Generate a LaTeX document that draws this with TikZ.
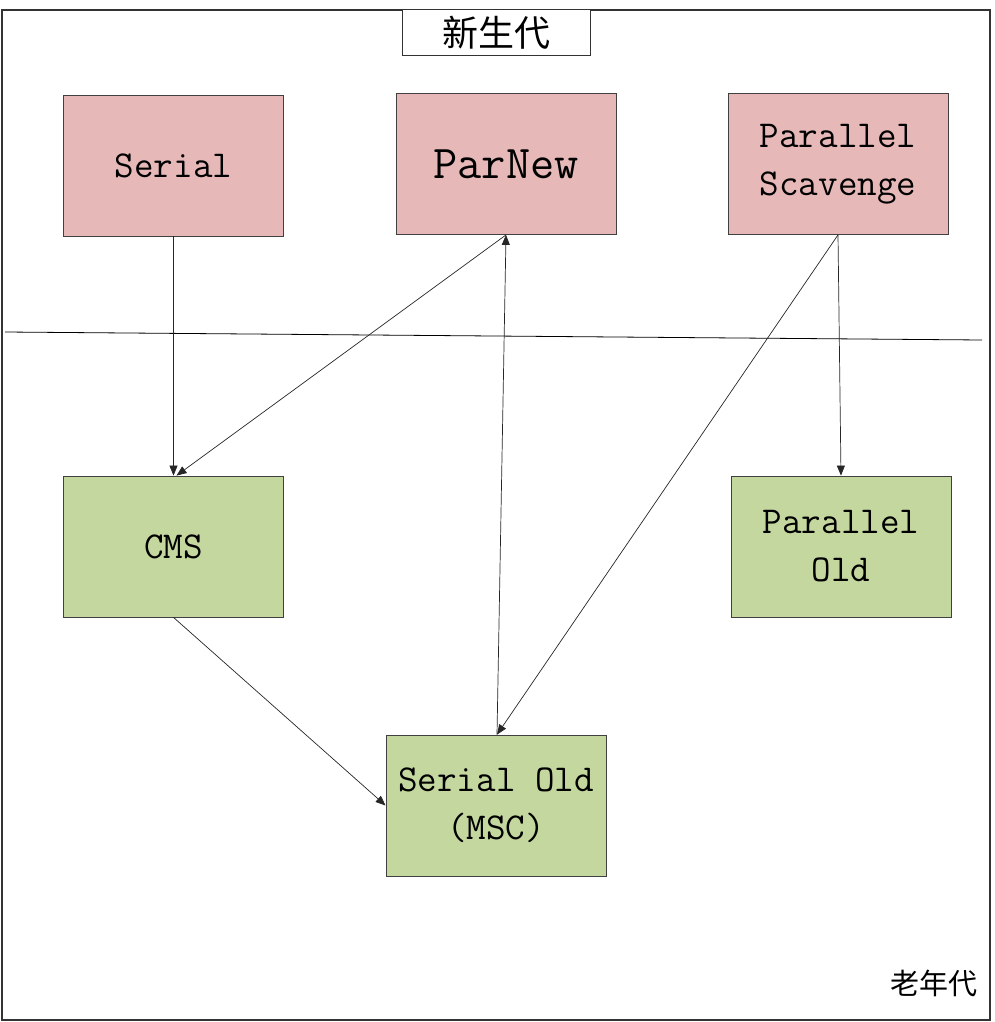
\documentclass[tikz,border=0pt]{standalone}
\usepackage{fontspec}
\newfontfamily\cjk{Noto Sans CJK SC}
\usetikzlibrary{arrows.meta,calc}
\definecolor{pinkfill}{HTML}{E6B9B8}
\definecolor{greenfill}{HTML}{C4D79F}
\tikzset{
  gcbox/.style={draw=black!75, line width=0.8pt, minimum width=220pt, minimum height=141pt, inner sep=0pt, align=center, font=\ttfamily\fontsize{38}{48}\selectfont},
  young/.style={gcbox, fill=pinkfill},
  old/.style={gcbox, fill=greenfill},
  conn/.style={draw=black!85, line width=0.7pt, -{Triangle[length=10pt,width=8pt]}}
}
\begin{document}
\begin{tikzpicture}[x=1pt,y=-1pt]
\useasboundingbox (0,0) rectangle (995,1022);
\draw[black!80, line width=1.2pt] (2,10) rectangle (990,1020);
\node[draw=black!80, line width=1pt, minimum width=188pt, minimum height=46pt, inner sep=0pt, fill=white, font=\cjk\fontsize{36}{40}\selectfont] (title) at (496,33) {新生代};
\node[font=\cjk\fontsize{29}{32}\selectfont] (oldlabel) at (934,983) {老年代};

\node[young] (serial) at (173.5,165.5) {Serial};
\node[young, font=\ttfamily\fontsize{47}{48}\selectfont] (parnew) at (506,164) {ParNew};
\node[young] (ps) at (838,164) {Parallel\\Scavenge};
\node[old] (cms) at (173.5,546.5) {CMS};
\node[old] (pold) at (841,546.5) {Parallel\\Old};
\node[old] (sold) at (496,805.5) {Serial Old\\(MSC)};

\coordinate (lineL) at (5,332);
\coordinate (lineR) at (982,340);
\draw[black, line width=0.8pt] (lineL) -- (lineR);

\draw[conn] (serial.south) -- (cms.north);
\draw[conn] (parnew.south) -- ($(cms.north)+(3,0)$);
\draw[conn] ($(sold.north)+(1,0)$) -- (parnew.south);
\draw[conn] (ps.south) -- ($(sold.north)+(1,0)$);
\draw[conn] (ps.south) -- (pold.north);
\draw[conn] (cms.south) -- (sold.west);
\end{tikzpicture}
\end{document}
